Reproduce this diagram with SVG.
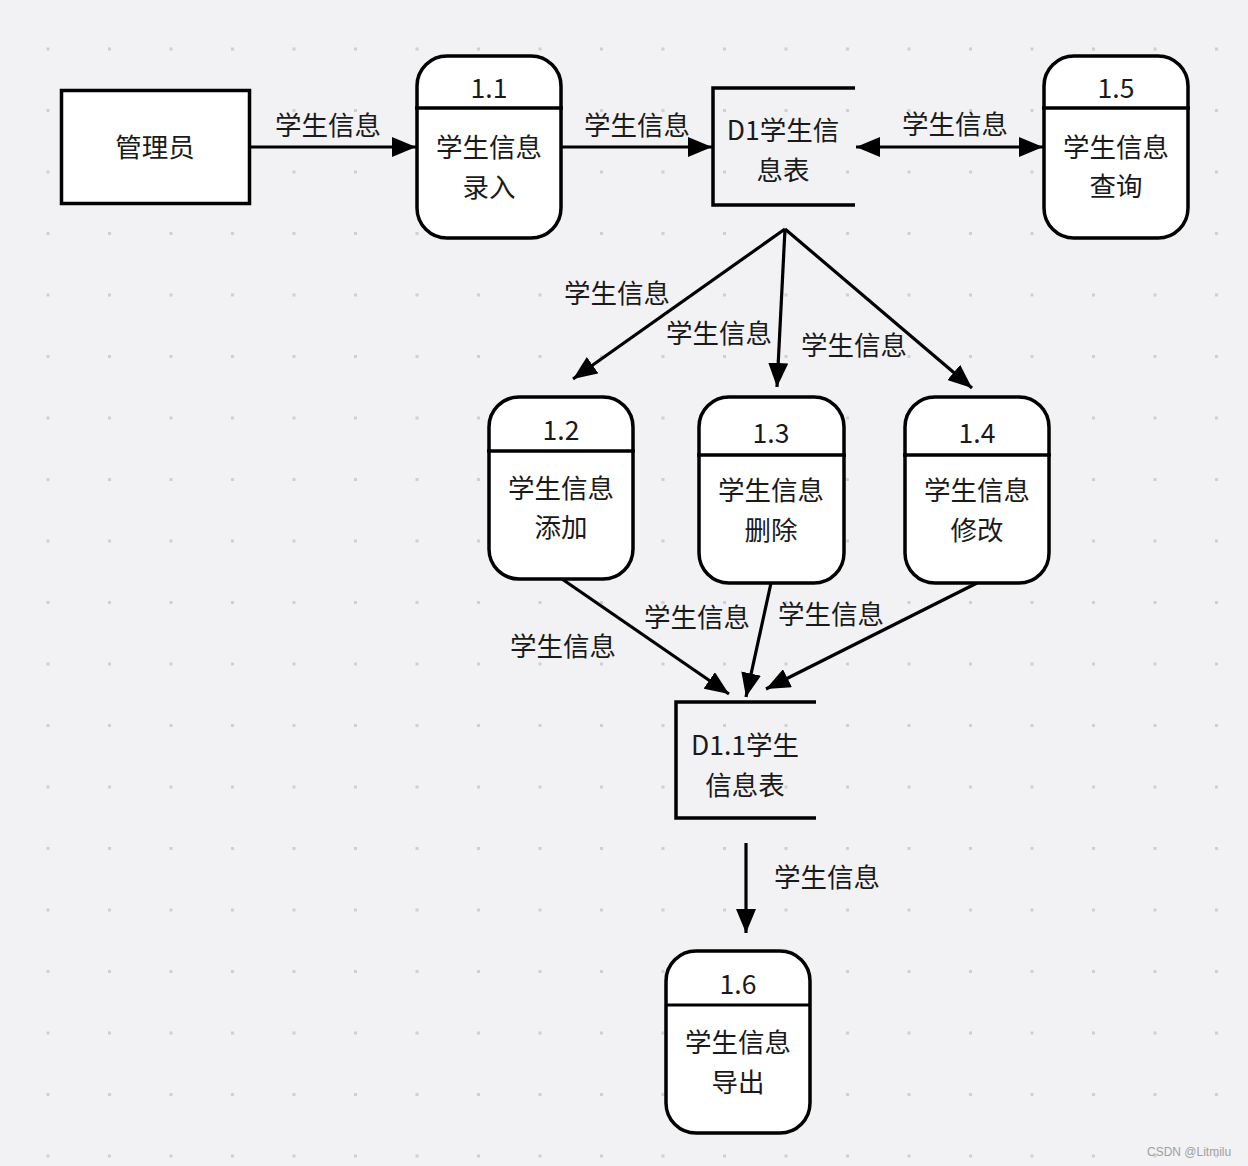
<svg xmlns="http://www.w3.org/2000/svg" width="1248" height="1166" viewBox="0 0 1248 1166">
<defs>
<pattern id="grid" x="46.5" y="47.5" width="61.5" height="61.5" patternUnits="userSpaceOnUse">
<rect x="0" y="0" width="3" height="3" fill="#cfcfd2"/>
</pattern>
<marker id="ah" viewBox="0 0 24 20" refX="24" refY="10" markerWidth="24" markerHeight="20" orient="auto-start-reverse" markerUnits="userSpaceOnUse">
<path d="M0,0 L24,10 L0,20 z" fill="#000"/>
</marker>
<style>
text{font-family:"Noto Sans CJK SC","Noto Sans",sans-serif;font-size:26.5px;fill:#1a1a1a;text-anchor:middle;dominant-baseline:central}
.box{fill:#fff;stroke:#000;stroke-width:3.5}
.div{stroke:#000;stroke-width:3.5}
.store{fill:none;stroke:#000;stroke-width:3.5}
.edge{fill:none;stroke:#000;stroke-width:3.2;marker-end:url(#ah)}
.wm{font-family:"Liberation Sans",sans-serif;font-size:12px;fill:#a0a0a0;text-anchor:start}
</style>
</defs>
<rect width="1248" height="1166" fill="#f2f2f4"/>
<rect x="40" y="40" width="1190" height="1125" fill="url(#grid)"/>

<g id="edges">
<line class="edge" x1="250" y1="147" x2="416" y2="147"/>
<line class="edge" x1="561" y1="147" x2="712" y2="147"/>
<line class="edge" x1="856" y1="147" x2="1043" y2="147" style="marker-start:url(#ah)"/>
<line class="edge" x1="785" y1="229" x2="573" y2="379"/>
<line class="edge" x1="785" y1="229" x2="777" y2="387"/>
<line class="edge" x1="785" y1="229" x2="972" y2="388"/>
<line class="edge" x1="562" y1="579" x2="729" y2="694"/>
<line class="edge" x1="771" y1="583" x2="746" y2="697"/>
<line class="edge" x1="977" y1="583" x2="766" y2="689"/>
<line class="edge" x1="746" y1="843" x2="746" y2="933"/>
<text x="328" y="123">学生信息</text>
<text x="637" y="123">学生信息</text>
<text x="955" y="122">学生信息</text>
<text x="617" y="291">学生信息</text>
<text x="719" y="331">学生信息</text>
<text x="854" y="343">学生信息</text>
<text x="563" y="644">学生信息</text>
<text x="697" y="615">学生信息</text>
<text x="831" y="612">学生信息</text>
<text x="827" y="875">学生信息</text>
</g>

<g id="admin">
<rect class="box" x="61.5" y="90.5" width="188" height="113"/>
<text x="155" y="145">管理员</text>
</g>

<g id="p11">
<rect class="box" x="417" y="56" width="144" height="182" rx="30"/>
<line class="div" x1="415" y1="108" x2="563" y2="108"/>
<text x="489" y="86">1.1</text>
<text x="489" y="145">学生信息</text>
<text x="489" y="185">录入</text>
</g>

<g id="d1">
<path class="store" d="M855,88 H713 V205 H855"/>
<text x="783" y="128">D1学生信</text>
<text x="783" y="168">息表</text>
</g>

<g id="p15">
<rect class="box" x="1044" y="56" width="144" height="182" rx="30"/>
<line class="div" x1="1042" y1="108" x2="1190" y2="108"/>
<text x="1116" y="86">1.5</text>
<text x="1116" y="145">学生信息</text>
<text x="1116" y="184">查询</text>
</g>

<g id="p12">
<rect class="box" x="489" y="397" width="144" height="182" rx="30"/>
<line class="div" x1="487" y1="451" x2="635" y2="451"/>
<text x="561" y="428">1.2</text>
<text x="561" y="486">学生信息</text>
<text x="561" y="525">添加</text>
</g>

<g id="p13">
<rect class="box" x="699" y="397" width="145" height="186" rx="30"/>
<line class="div" x1="697" y1="455" x2="846" y2="455"/>
<text x="771" y="431">1.3</text>
<text x="771" y="488">学生信息</text>
<text x="771" y="528">删除</text>
</g>

<g id="p14">
<rect class="box" x="905" y="397" width="144" height="186" rx="30"/>
<line class="div" x1="903" y1="455" x2="1051" y2="455"/>
<text x="977" y="431">1.4</text>
<text x="977" y="488">学生信息</text>
<text x="977" y="528">修改</text>
</g>

<g id="d11">
<path class="store" d="M816,702 H676 V818 H816"/>
<text x="745" y="743">D1.1学生</text>
<text x="745" y="783">信息表</text>
</g>

<g id="p16">
<rect class="box" x="666" y="951" width="144" height="182" rx="30"/>
<line class="div" x1="666" y1="1005" x2="810" y2="1005" style="stroke-width:3"/>
<text x="738" y="982">1.6</text>
<text x="738" y="1040">学生信息</text>
<text x="738" y="1080">导出</text>
</g>

<text class="wm" x="1147" y="1152">CSDN @Litmilu</text>
</svg>
